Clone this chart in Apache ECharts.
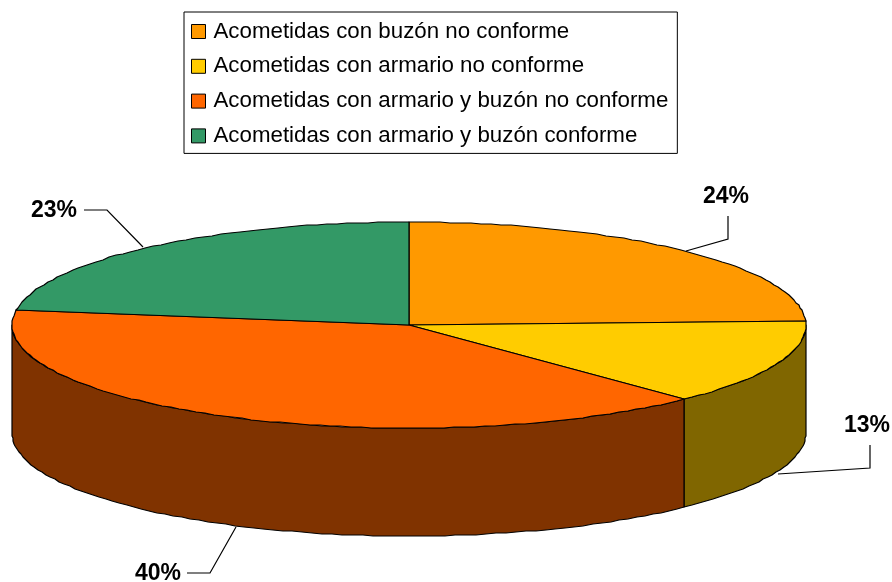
<!DOCTYPE html>
<html><head><meta charset="utf-8">
<style>html,body{margin:0;padding:0;background:#fff}#c{width:892px;height:582px}</style>
<script src="https://cdn.jsdelivr.net/npm/echarts@6/dist/echarts.min.js"></script>
</head><body><div id="c"></div>
<script>
const categories = ['Acometidas con buzón no conforme','Acometidas con armario no conforme','Acometidas con armario y buzón no conforme','Acometidas con armario y buzón conforme'];
const values = [24.4, 13.4, 39.5, 22.7];
const topColors = ['#FF9900','#FFCC00','#FF6600','#339966'];
const wallColors = ['#804D00','#806600','#803300','#1A4D33'];
const leaderLines = [
  [[686,251],[728,239],[728,216]],
  [[778,474],[870,468],[870,445]],
  [[236,527],[210,573],[187,573]],
  [[143,247],[107,210],[84,210]]
];
const labelCenters = [[726,197],[867,426],[158,574],[54,211]];

const CX=409, CY=325, RX=397, RY=103, DEPTH=108;
const total = values.reduce((a,b)=>a+b,0);
const pt=(deg,dy)=>{const r=deg*Math.PI/180;return [Math.round(CX+RX*Math.sin(r)),Math.round(CY-RY*Math.cos(r)+(dy||0))];};
const arc=(a,b,dy)=>{const p=[];const n=Math.max(2,Math.ceil((b-a)/1.5));for(let i=0;i<=n;i++)p.push(pt(a+(b-a)*i/n,dy));return p;};
const lineStyle={fill:null,stroke:'#000',lineWidth:1.2};
const edge={stroke:'#000',lineWidth:1.2,lineJoin:'round'};

let acc=0;
const series=categories.map((name,i)=>{
  const a0=acc/total*360; acc+=values[i]; const a1=acc/total*360;
  return {
    type:'custom',name,coordinateSystem:'none',
    itemStyle:{color:topColors[i],borderColor:'#000',borderWidth:1},
    data:[[values[i]]],
    renderItem:()=>{
      const ch=[];
      const w0=Math.max(a0,90), w1=Math.min(a1,270);
      if(w1>w0){
        ch.push({type:'polygon',shape:{points:arc(w0,w1,0).concat(arc(w0,w1,DEPTH).reverse())},style:Object.assign({fill:wallColors[i]},edge)});
      }
      ch.push({type:'polygon',shape:{points:[[CX,CY]].concat(arc(a0,a1,0))},style:Object.assign({fill:topColors[i]},edge)});
      ch.push({type:'polyline',shape:{points:leaderLines[i]},style:lineStyle});
      ch.push({type:'text',style:{text:Math.round(values[i]/total*100)+'%',x:labelCenters[i][0],y:labelCenters[i][1],align:'center',verticalAlign:'middle',font:'bold 23px "Liberation Sans",Arial,sans-serif',fill:'#000'}});
      return {type:'group',children:ch};
    }
  };
});

const chart=echarts.init(document.getElementById('c'),null,{renderer:'canvas'});
chart.setOption({
  animation:false,
  backgroundColor:'#fff',
  legend:{
    orient:'vertical',left:184,top:12,
    padding:[7,9,5,7],
    backgroundColor:'#fff',borderColor:'#000',borderWidth:1,
    itemWidth:14,itemHeight:14,itemGap:9.8,icon:'rect',
    selectedMode:false,
    textStyle:{fontFamily:'"Liberation Sans",Arial,sans-serif',fontSize:22.3,color:'#000',padding:[0,0,0,3],lineHeight:25},
    data:categories.map((name,i)=>({name,itemStyle:{color:topColors[i],borderColor:'#000',borderWidth:1}}))
  },
  series
});
</script></body></html>
